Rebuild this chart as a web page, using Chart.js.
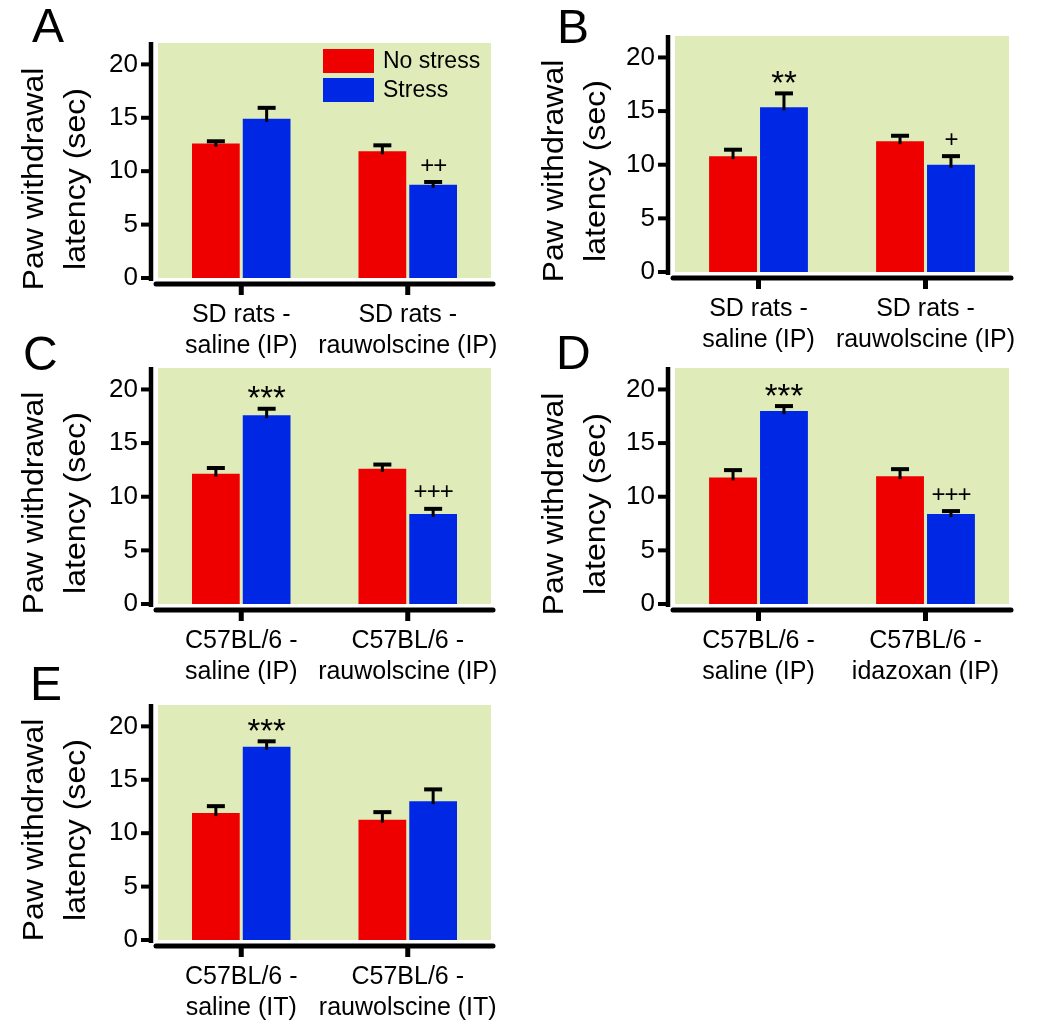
<!DOCTYPE html>
<html>
<head>
<meta charset="utf-8">
<script src="https://cdn.jsdelivr.net/npm/chart.js@4.4.1/dist/chart.umd.min.js"></script>
<style>
  body { margin: 0; background: #fff; }
  #wrap { position: relative; width: 1050px; height: 1024px; }
  canvas { position: absolute; }
</style>
</head>
<body>
<div id="wrap">
  <canvas id="panelA" width="525" height="360" style="left:0px;top:0px"></canvas>
  <canvas id="panelB" width="530" height="360" style="left:520px;top:0px"></canvas>
  <canvas id="panelC" width="525" height="360" style="left:0px;top:330px"></canvas>
  <canvas id="panelD" width="530" height="360" style="left:520px;top:330px"></canvas>
  <canvas id="panelE" width="525" height="374" style="left:0px;top:650px"></canvas>
</div>
<script>
// series names and tick values
const seriesNames = ["No stress", "Stress"];
const yTicks = [0, 5, 10, 15, 20];
const yMax = 22;

// categories
const catsA = [["SD rats -", "saline (IP)"], ["SD rats -", "rauwolscine (IP)"]];
const catsB = [["SD rats -", "saline (IP)"], ["SD rats -", "rauwolscine (IP)"]];
const catsC = [["C57BL/6 -", "saline (IP)"], ["C57BL/6 -", "rauwolscine (IP)"]];
const catsD = [["C57BL/6 -", "saline (IP)"], ["C57BL/6 -", "idazoxan (IP)"]];
const catsE = [["C57BL/6 -", "saline (IT)"], ["C57BL/6 -", "rauwolscine (IT)"]];

// means (sec)
const noStressA = [12.58, 11.86];
const stressA = [14.9, 8.73];
const noStressB = [10.8, 12.2];
const stressB = [15.35, 10.0];
const noStressC = [12.15, 12.6];
const stressC = [17.6, 8.4];
const noStressD = [11.8, 11.92];
const stressD = [17.98, 8.38];
const noStressE = [11.88, 11.26];
const stressE = [18.1, 13.0];

// error (SEM, upward only)
const noStressErrA = [0.22, 0.56];
const stressErrA = [1.03, 0.26];
const noStressErrB = [0.6, 0.5];
const stressErrB = [1.3, 0.8];
const noStressErrC = [0.53, 0.4];
const stressErrC = [0.6, 0.47];
const noStressErrD = [0.68, 0.65];
const stressErrD = [0.47, 0.28];
const noStressErrE = [0.65, 0.71];
const stressErrE = [0.5, 1.1];

// significance marks above the stress bars
const marksA = ["", "++"];
const marksB = ["**", "+"];
const marksC = ["***", "+++"];
const marksD = ["***", "+++"];
const marksE = ["***", ""];

const RED = "#ee0000";
const BLUE = "#0028e4";
const GREEN = "#dfecba";
const FONT = "'Liberation Sans', Arial, sans-serif";

// layout of each panel in its own canvas
const panels = [
  { id: "panelA", letter: "A", cats: catsA, ns: noStressA, st: stressA, nsErr: noStressErrA, stErr: stressErrA, marks: marksA,
    left: 158, right: 491, top: 43, zero: 278, letterX: 32, letterY: 42, titleY: 179, legend: true },
  { id: "panelB", letter: "B", cats: catsB, ns: noStressB, st: stressB, nsErr: noStressErrB, stErr: stressErrB, marks: marksB,
    left: 155, right: 489, top: 36, zero: 272, letterX: 37, letterY: 43, titleY: 171 },
  { id: "panelC", letter: "C", cats: catsC, ns: noStressC, st: stressC, nsErr: noStressErrC, stErr: stressErrC, marks: marksC,
    left: 158, right: 491, top: 38, zero: 274, letterX: 23, letterY: 40, titleY: 173 },
  { id: "panelD", letter: "D", cats: catsD, ns: noStressD, st: stressD, nsErr: noStressErrD, stErr: stressErrD, marks: marksD,
    left: 155, right: 489, top: 38, zero: 274, letterX: 36, letterY: 39, titleY: 174 },
  { id: "panelE", letter: "E", cats: catsE, ns: noStressE, st: stressE, nsErr: noStressErrE, stErr: stressErrE, marks: marksE,
    left: 158, right: 491, top: 55, zero: 290, letterX: 30, letterY: 50, titleY: 180 }
];

function makeDecor(p) {
  return {
    id: "decor" + p.letter,
    beforeDatasetsDraw(chart) {
      const { ctx, chartArea: a } = chart;
      ctx.save();
      ctx.fillStyle = GREEN;
      ctx.fillRect(a.left, a.top, a.right - a.left, a.bottom - a.top);
      ctx.restore();
    },
    afterDatasetsDraw(chart) {
      const { ctx } = chart;
      const ys = chart.scales.y;
      const errs = [p.nsErr, p.stErr];
      ctx.save();
      ctx.strokeStyle = "#000";
      chart.data.datasets.forEach((ds, i) => {
        const meta = chart.getDatasetMeta(i);
        meta.data.forEach((bar, j) => {
          const top = ys.getPixelForValue(ds.data[j] + errs[i][j]);
          ctx.lineWidth = 3;
          ctx.beginPath();
          ctx.moveTo(bar.x, bar.y + 3);
          ctx.lineTo(bar.x, top);
          ctx.stroke();
          ctx.lineWidth = 4;
          ctx.beginPath();
          ctx.moveTo(bar.x - 9, top);
          ctx.lineTo(bar.x + 9, top);
          ctx.stroke();
          if (i === 1 && p.marks[j]) {
            const m = p.marks[j];
            const star = m.indexOf("*") >= 0;
            const fs = star ? 33 : 24;
            ctx.fillStyle = "#000";
            ctx.font = fs + "px " + FONT;
            ctx.letterSpacing = star ? "0px" : "-1px";
            ctx.textAlign = "center";
            ctx.textBaseline = "middle";
            ctx.fillText(m, bar.x, top - (star ? 15 - 0.2 * fs : 16));
            ctx.letterSpacing = "0px";
          }
        });
      });
      ctx.restore();
    },
    afterDraw(chart) {
      const { ctx, chartArea: a } = chart;
      const ys = chart.scales.y;
      const xs = chart.scales.x;
      const y0 = ys.getPixelForValue(0);
      const axisX = a.left - 7;
      const axisY = y0 + 6;
      ctx.save();
      ctx.strokeStyle = "#000";
      // y axis
      ctx.lineWidth = 4.5;
      ctx.beginPath();
      ctx.moveTo(axisX, a.top - 1);
      ctx.lineTo(axisX, y0 + 3);
      ctx.stroke();
      ctx.lineWidth = 4;
      yTicks.forEach(v => {
        const py = ys.getPixelForValue(v);
        ctx.beginPath();
        ctx.moveTo(axisX - 10, py);
        ctx.lineTo(axisX, py);
        ctx.stroke();
      });
      // x axis
      ctx.lineWidth = 5;
      ctx.lineCap = "round";
      ctx.beginPath();
      ctx.moveTo(a.left - 2, axisY);
      ctx.lineTo(a.right + 2, axisY);
      ctx.stroke();
      ctx.lineCap = "butt";
      xs.ticks.forEach((t, k) => {
        const px = xs.getPixelForTick(k);
        ctx.beginPath();
        ctx.moveTo(px, axisY);
        ctx.lineTo(px, axisY + 11);
        ctx.stroke();
      });
      // y title (two lines)
      ctx.fillStyle = "#000";
      ctx.font = "30px " + FONT;
      ctx.textAlign = "center";
      ctx.textBaseline = "alphabetic";
      [["Paw withdrawal", 43], ["latency (sec)", 85]].forEach(([txt, bx]) => {
        ctx.save();
        ctx.translate(bx, p.titleY);
        ctx.rotate(-Math.PI / 2);
        ctx.scale(1.07, 1);
        ctx.fillText(txt, 0, 0);
        ctx.restore();
      });
      // panel letter
      ctx.font = "48px " + FONT;
      ctx.textAlign = "left";
      ctx.fillText(p.letter, p.letterX, p.letterY);
      // legend
      if (p.legend) {
        ctx.font = "23px " + FONT;
        ctx.textBaseline = "middle";
        chart.data.datasets.forEach((ds, i) => {
          const bx = a.right - 168;
          const by = a.top + 6 + i * 29;
          ctx.fillStyle = ds.backgroundColor;
          ctx.fillRect(bx, by, 51, 24);
          ctx.fillStyle = "#000";
          ctx.fillText(ds.label, bx + 60, by + 13);
        });
      }
      ctx.restore();
    }
  };
}

panels.forEach(p => {
  const canvas = document.getElementById(p.id);
  const W = canvas.width, H = canvas.height;
  new Chart(canvas.getContext("2d"), {
    type: "bar",
    data: {
      labels: p.cats,
      datasets: [
        { label: seriesNames[0], data: p.ns, backgroundColor: RED },
        { label: seriesNames[1], data: p.st, backgroundColor: BLUE }
      ]
    },
    options: {
      responsive: false,
      animation: false,
      devicePixelRatio: 1,
      categoryPercentage: 0.61,
      barPercentage: 0.94,
      layout: { padding: { left: 0, top: p.top, right: W - p.right, bottom: 0 } },
      plugins: { legend: { display: false }, tooltip: { enabled: false } },
      scales: {
        x: {
          grid: { display: false },
          border: { display: false },
          afterFit: s => { s.height = H - p.zero; },
          ticks: {
            color: "#000",
            autoSkip: false,
            maxRotation: 0,
            padding: 13,
            font: { family: FONT, size: 25, lineHeight: 1.25 }
          }
        },
        y: {
          min: 0,
          max: yMax,
          grid: { display: false },
          border: { display: false },
          afterFit: s => { s.width = p.left; },
          afterBuildTicks: s => { s.ticks = yTicks.map(v => ({ value: v })); },
          ticks: {
            color: "#000",
            padding: 12,
            font: { family: FONT, size: 26 }
          }
        }
      }
    },
    plugins: [makeDecor(p)]
  });
});
</script>
</body>
</html>
